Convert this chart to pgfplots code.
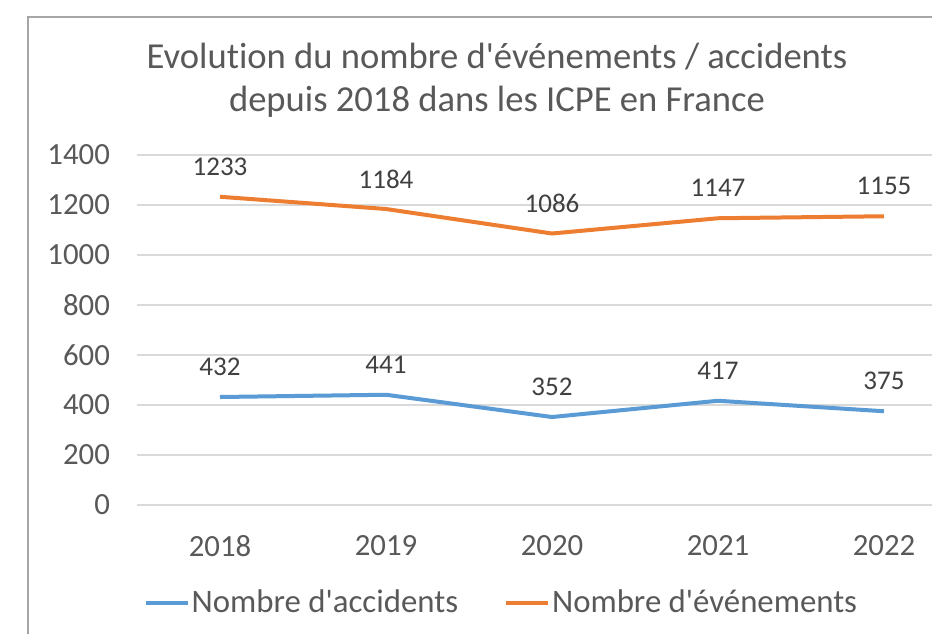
\documentclass[border=0pt]{standalone}
\usepackage{pgfplots}
\pgfplotsset{compat=1.18}
\usepackage{fontspec}
\setmainfont{Carlito}
\newfontfamily\carl{Carlito}[Ligatures={NoCommon}]
\definecolor{cblue}{HTML}{5B9BD5}
\definecolor{corange}{HTML}{ED7D31}
\definecolor{ctext}{HTML}{595959}
\definecolor{clabel}{HTML}{404040}
\definecolor{cgrid}{HTML}{D9D9D9}
\definecolor{cframe}{HTML}{A6A6A6}
\begin{document}
\begin{tikzpicture}
\useasboundingbox (0,0) rectangle (466pt,-316.5pt);
\clip (0,0) rectangle (466pt,-316.5pt);
\fill[white] (0,0) rectangle (466pt,-316.5pt);
\draw[cframe, line width=1pt] (14pt,-8.5pt) rectangle (490pt,-340pt);
\node[anchor=base, text=ctext, font=\carl\fontsize{18.3}{21}\selectfont, inner sep=0pt] at (248.5pt,-34pt) {Evolution du nombre d'événements / accidents};
\node[anchor=base, text=ctext, font=\carl\fontsize{18.3}{21}\selectfont, inner sep=0pt] at (248.5pt,-55.5pt) {depuis 2018 dans les ICPE en France};
\begin{axis}[
  at={(68.5pt,-77.5pt)}, anchor=north west,
  scale only axis, width=415pt, height=175pt,
  xmin=-0.5, xmax=4.5, ymin=0, ymax=1400,
  xtick={0,1,2,3,4}, xticklabels={2018,2019,2020,2021,2022},
  ytick={0,200,...,1400},
  ymajorgrids, grid style={cgrid, line width=0.75pt},
  axis line style={draw=none}, major tick length=0pt,
  /pgf/number format/1000 sep={},
  /pgf/number format/assume math mode=true,
  tick label style={text=ctext, font=\carl\fontsize{15.4}{18}\selectfont},
  yticklabel style={anchor=east, xshift=-10pt},
  xticklabel style={anchor=center, yshift=-20.5pt},
  nodes near coords,
  nodes near coords style={anchor=center, yshift=15pt, text=clabel, font=\carl\fontsize{13.5}{16}\selectfont},
  legend columns=2,
  legend style={at={(0.439,-0.28)}, anchor=center, draw=none, fill=none,
    font=\carl\fontsize{16.4}{19}\selectfont, text=ctext,
    /tikz/every even column/.append style={column sep=22pt},
    nodes={inner sep=1pt}},
  legend image code/.code={\draw[#1, line width=2pt] (0pt,0pt) -- (21pt,0pt);},
]
\addplot[cblue, line width=2pt, line join=round, no markers] coordinates {(0,432) (1,441) (2,352) (3,417) (4,375)};
\addlegendentry{Nombre d'accidents}
\addplot[corange, line width=2pt, line join=round, no markers] coordinates {(0,1233) (1,1184) (2,1086) (3,1147) (4,1155)};
\addlegendentry{Nombre d'événements}
\end{axis}
\end{tikzpicture}
\end{document}
